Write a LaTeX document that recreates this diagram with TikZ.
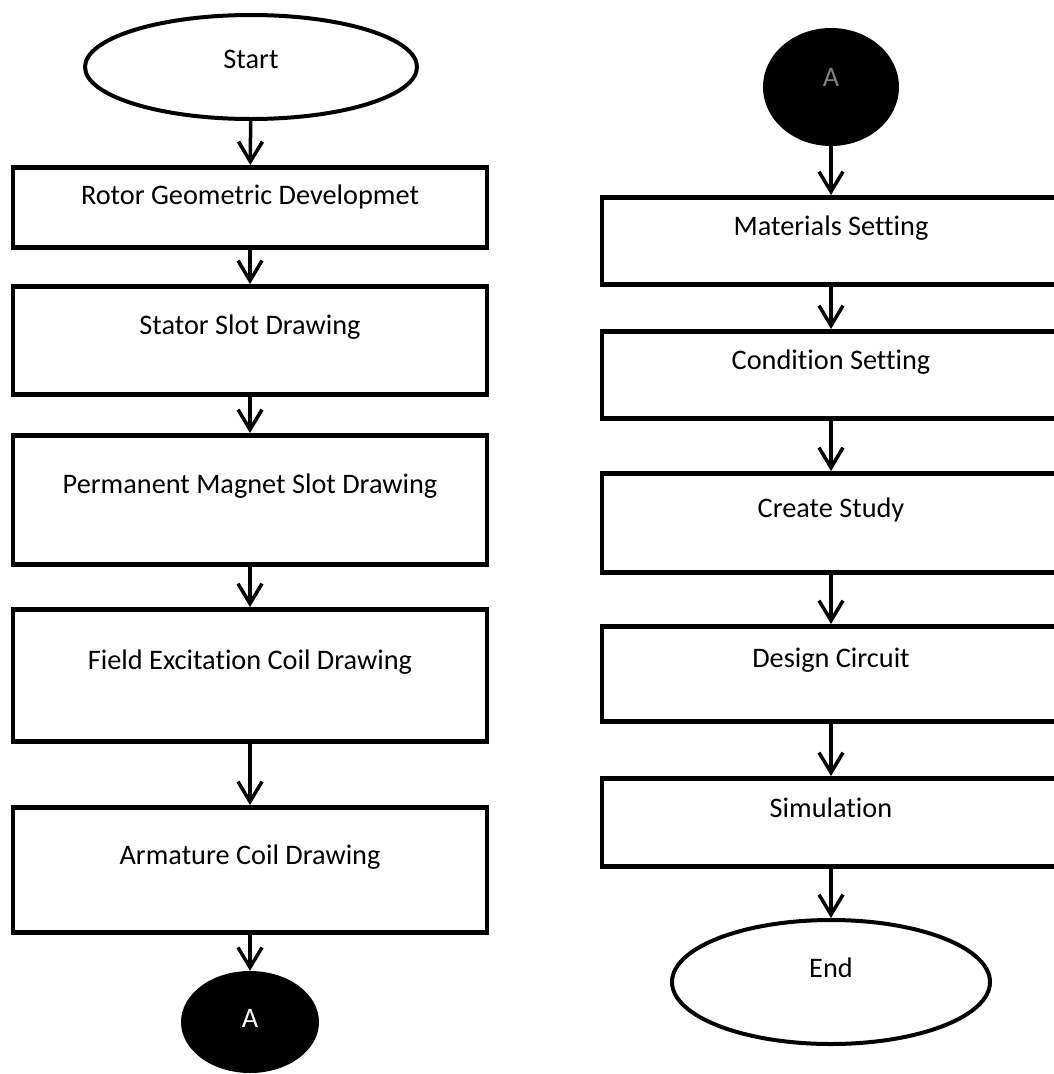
\documentclass[tikz,border=0pt]{standalone}
\usepackage{fontspec}
\setmainfont{Carlito}[Ligatures={TeX,NoCommon}]
\usetikzlibrary{arrows.meta,positioning,shapes.geometric}

\begin{document}
\begin{tikzpicture}[x=1pt, y=-1pt,
      box/.style={rectangle, draw, line width=4.5pt, inner sep=0pt, anchor=north,
                  font=\fontsize{28.3}{34}\selectfont},
      lbox/.style={box, minimum width=474pt},
      rbox/.style={box, minimum width=458pt},
      term/.style={ellipse, draw, line width=4pt, inner sep=0pt,
                   font=\fontsize{28.3}{34}\selectfont},
      conn/.style={ellipse, fill=black, inner sep=0pt, text=white,
                   font=\fontsize{28.3}{34}\selectfont},
      arr/.style={line width=3.5pt, -{Straight Barb[length=20pt,width=24pt]}}
    ]
    \useasboundingbox (0,0) rectangle (1054,1074);
    \clip (0,0) rectangle (1054,1074);

    % left column
    \node[term, minimum width=332pt, minimum height=104pt, text height=18pt, text depth=16pt] (start) at (251,67) {Start};
    \node[lbox, text height=37pt, text depth=43pt] (rotor)  at (250,165) {Rotor Geometric Developmet};
    \node[lbox, text height=48pt, text depth=60pt] (stator) at (250,284) {Stator Slot Drawing};
    \node[lbox, text height=58pt, text depth=71pt] (magnet) at (250,433) {Permanent Magnet Slot Drawing};
    \node[lbox, text height=60pt, text depth=72pt] (field)  at (250,607) {Field Excitation Coil Drawing};
    \node[lbox, text height=57pt, text depth=68pt] (arm)    at (250,805) {Armature Coil Drawing};
    \node[conn, minimum width=138pt, minimum height=102pt, text height=18pt, text depth=8pt] (conA) at (250,1022) {A};

    % right column
    \node[conn, minimum width=136pt, minimum height=118pt, text height=18pt, text depth=20pt, text=gray] (conB) at (831,87) {A};
    \node[rbox, text height=38pt, text depth=49pt] (mat)    at (831,195) {Materials Setting};
    \node[rbox, text height=38pt, text depth=49pt] (cond)   at (831,329) {Condition Setting};
    \node[rbox, text height=44pt, text depth=55pt] (study)  at (831,471) {Create Study};
    \node[rbox, text height=41pt, text depth=54pt] (circ)   at (831,624) {Design Circuit};
    \node[rbox, text height=39pt, text depth=49pt] (sim)    at (831,776) {Simulation};
    \node[term, minimum width=318pt, minimum height=124pt, text height=18pt, text depth=28pt] (stop) at (831,982) {End};

    \draw[arr] (start) -- (rotor);
    \draw[arr] (rotor) -- (stator);
    \draw[arr] (stator) -- (magnet);
    \draw[arr] (magnet) -- (field);
    \draw[arr] (field) -- (arm);
    \draw[arr] (arm) -- (conA);

    \draw[arr] (conB) -- (mat);
    \draw[arr] (mat) -- (cond);
    \draw[arr] (cond) -- (study);
    \draw[arr] (study) -- (circ);
    \draw[arr] (circ) -- (sim);
    \draw[arr] (sim) -- (stop);
  \end{tikzpicture}
\end{document}
